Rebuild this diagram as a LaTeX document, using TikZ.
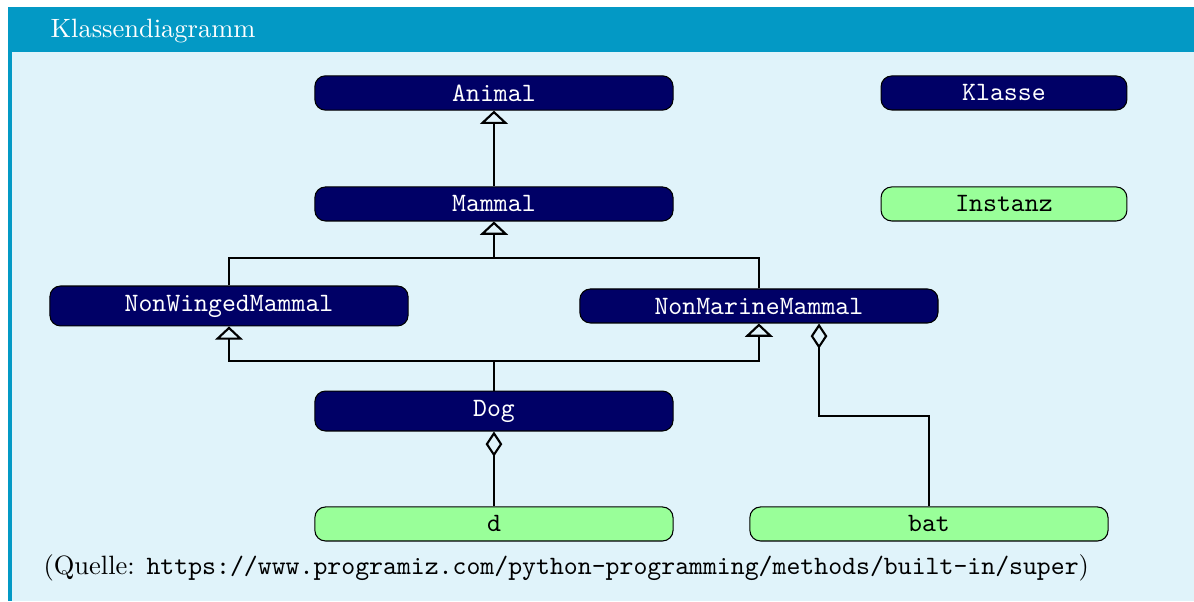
\documentclass[tikz,border=0pt]{standalone}
\usetikzlibrary{arrows.meta}

\definecolor{kopfblau}{RGB}{3,153,197}
\definecolor{grundblau}{RGB}{224,243,250}
\definecolor{klassblau}{RGB}{0,0,102}
\definecolor{instgruen}{RGB}{153,255,153}

\tikzset{
  klasse/.style={draw=black, fill=klassblau, text=white, rounded corners=4pt,
    minimum width=4.75cm, font=\ttfamily},
  instanz/.style={klasse, fill=instgruen, text=black},
  erbt/.style={thick, -{Triangle[open,length=5pt,width=10.5pt]}},
  aggr/.style={thick, -{Diamond[open,length=9.5pt,width=6.3pt]}},
}

\begin{document}
\begin{tikzpicture}

  % Rahmen
  \useasboundingbox (0,0) rectangle (15.835,-7.971);
  \fill[white] (0,0) rectangle (15.835,-7.971);
  \fill[kopfblau] (0.106,-0.093) rectangle (15.835,-0.690);
  \fill[kopfblau] (0.106,-0.690) rectangle (0.159,-7.971);
  \fill[grundblau] (0.159,-0.690) rectangle (15.835,-7.971);
  \node[anchor=base west, inner sep=0, text=white] (titel) at (0.663,-0.491) {Klassendiagramm};

  % Klassen
  \node[klasse] (animal) at (6.551,-1.233) {Animal};
  \node[klasse] (mammal) at (6.551,-2.705) {Mammal};
  \node[klasse] (nwm)    at (3.037,-4.058) {NonWingedMammal};
  \node[klasse] (nmm)    at (10.065,-4.058) {NonMarineMammal};
  \node[klasse] (dog)    at (6.551,-5.451) {Dog};

  % Instanzen
  \node[instanz] (d)   at (6.551,-6.949)  {d};
  \node[instanz] (bat) at (12.320,-6.949) {bat};

  % Legende
  \node[klasse, minimum width=3.26cm]  (klasse)  at (13.315,-1.233) {Klasse};
  \node[instanz, minimum width=3.26cm] (instanz) at (13.315,-2.705) {Instanz};

  \coordinate (j1) at (6.551,-3.422);
  \coordinate (j2) at (6.551,-4.787);
  \coordinate (k)  at (10.862,-5.517);

  % Pfeile
  \draw[erbt]  (mammal) -- (animal);
  \draw[thick] (nwm.north) |- (j1);
  \draw[thick] (nmm.north) |- (j1);
  \draw[erbt]  (j1) -- (mammal);
  \draw[thick] (dog) -- (j2);
  \draw[erbt]  (j2) -| (nwm);
  \draw[erbt]  (j2) -| (nmm);
  \draw[aggr]  (d) -- (dog);
  \draw[aggr]  (bat) |- (k) -- (nmm.south -| k);

  % Quelle
  \node[anchor=base west, inner sep=0] (quelle) at (0.570,-7.620)
    {(Quelle: \texttt{https://www.programiz.com/python-programming/methods/built-in/super})};

\end{tikzpicture}
\end{document}
